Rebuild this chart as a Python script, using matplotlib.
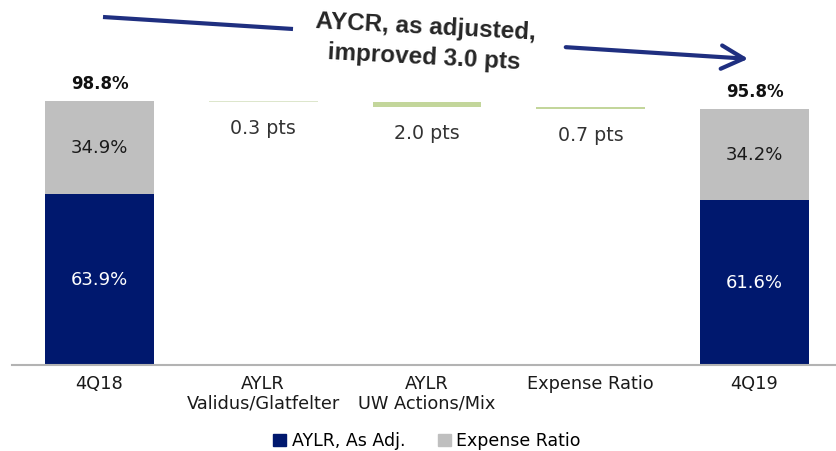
import matplotlib
matplotlib.use("Agg")
import matplotlib.pyplot as plt
from matplotlib.lines import Line2D
from matplotlib.patches import FancyArrowPatch, Patch
import numpy as np

plt.rcParams['font.family'] = ['DejaVu Sans']

# data
categories = ["4Q18", "AYLR\nValidus/Glatfelter", "AYLR\nUW Actions/Mix", "Expense Ratio", "4Q19"]
loss_ratio = [63.9, 61.6]      # 4Q18, 4Q19
expense_ratio = [34.9, 34.2]
steps = [0.3, 2.0, 0.7]        # improvements between the two quarters
step_labels = ["0.3 pts", "2.0 pts", "0.7 pts"]
legend_labels = ["AYLR, As Adj.", "Expense Ratio"]

navy = "#00186e"
grey = "#bfbfbf"
step_colors = ["#dde6cc", "#c3d69b", "#c3d69b"]
step_heights = [0.35, 2.0, 0.7]  # first step drawn very thin like the slide

W, H = 837, 451
fig = plt.figure(figsize=(W / 100, H / 100), dpi=100)
ax = fig.add_axes([12 / W, 86 / H, 825 / W, 365 / H])

x = np.arange(len(categories))
bw = 0.665

# stacked end bars
ends = [0, 4]
totals = [loss_ratio[i] + expense_ratio[i] for i in range(2)]
ax.bar(ends, loss_ratio, width=bw, color=navy, zorder=2)
ax.bar(ends, expense_ratio, width=bw, bottom=loss_ratio, color=grey, zorder=2)

for k, xi in enumerate(ends):
    ax.text(xi, loss_ratio[k] / 2, f"{loss_ratio[k]:.1f}%", ha="center", va="center",
            color="white", fontsize=13)
    ax.text(xi, loss_ratio[k] + expense_ratio[k] / 2, f"{expense_ratio[k]:.1f}%",
            ha="center", va="center", color="#1a1a1a", fontsize=13)
    ax.annotate(f"{totals[k]:.1f}%", (xi, totals[k]), xytext=(0, 6),
                textcoords="offset points", ha="center", va="bottom",
                fontsize=12, fontweight="bold", color="#111111")

# floating steps
level = totals[0]
for j, s in enumerate(steps):
    bottom = level - s
    ax.bar(x[j + 1], step_heights[j], width=bw, bottom=level - step_heights[j],
           color=step_colors[j], zorder=2)
    ax.annotate(step_labels[j], (x[j + 1], bottom), xytext=(0, -19),
                textcoords="offset points", ha="center", va="center",
                fontsize=13.7, color="#333333")
    level = bottom

ax.set_xlim(-0.534, 4.504)
ax.set_ylim(0, 136.6)
ax.set_xticks(x)
ax.set_xticklabels(categories, fontsize=12.8, color="#1a1a1a", linespacing=1.1)
ax.tick_params(axis="x", length=0, pad=7)
ax.set_yticks([])
for sp in ["left", "right", "top"]:
    ax.spines[sp].set_visible(False)
ax.spines["bottom"].set_color("#b3b3b3")
ax.spines["bottom"].set_linewidth(1.5)

# legend
handles = [Patch(color=navy), Patch(color=grey)]
fig.legend(handles, legend_labels, loc="center", bbox_to_anchor=(427 / W, 0.022),
           ncol=2, frameon=False, fontsize=12.5, handlelength=0.75, handleheight=0.75,
           handletextpad=0.3, columnspacing=1.9)

# headline arrow and text
def fp(px, py):
    return (px / W, 1 - py / H)

arrow_col = "#1f2f80"
fig.add_artist(Line2D([fp(103, 17)[0], fp(293, 29)[0]], [fp(103, 17)[1], fp(293, 29)[1]],
                      color=arrow_col, lw=3, solid_capstyle="butt"))
fig.add_artist(FancyArrowPatch(fp(563, 47), fp(751, 59), transform=fig.transFigure,
                               arrowstyle="->,head_length=1.15,head_width=0.6",
                               mutation_scale=14, color=arrow_col, lw=3))
fig.text(425 / W, 1 - 42 / H, "AYCR, as adjusted,\nimproved 3.0 pts", ha="center",
         va="center", rotation=-3.0, rotation_mode="anchor", fontsize=17.5,
         fontweight="bold", color="#262626", linespacing=1.4,
         family=["Liberation Sans", "DejaVu Sans"])

fig.savefig("out.png", dpi=100)
